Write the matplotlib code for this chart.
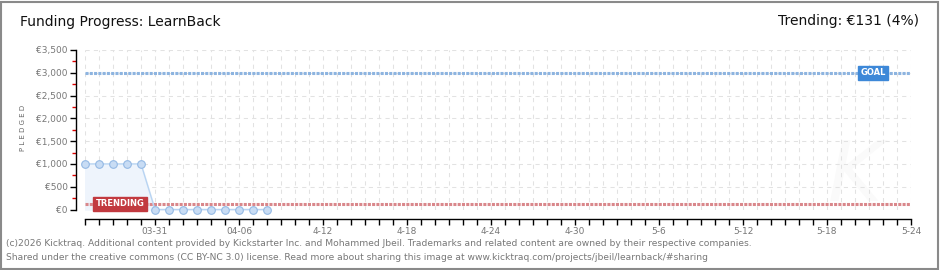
import matplotlib
matplotlib.use('Agg')
from matplotlib import pyplot as plt
import matplotlib.dates as mdates
from matplotlib.patches import Rectangle
import datetime as dt

# campaign data
dates = ['2026-03-26', '2026-03-27', '2026-03-28', '2026-03-29', '2026-03-30',
         '2026-03-31', '2026-04-01', '2026-04-02', '2026-04-03', '2026-04-04',
         '2026-04-05', '2026-04-06', '2026-04-07', '2026-04-08']
pledged = [1000, 1000, 1000, 1000, 1000, 0, 0, 0, 0, 0, 0, 0, 0, 0]
goal = 3000
trending = 131
start_date = '2026-03-26'
end_date = '2026-05-24'

label_dates = ['2026-03-31', '2026-04-06', '2026-04-12', '2026-04-18', '2026-04-24',
               '2026-04-30', '2026-05-06', '2026-05-12', '2026-05-18', '2026-05-24']
label_texts = ['03-31', '04-06', '4-12', '4-18', '4-24', '4-30', '5-6', '5-12', '5-18', '5-24']
y_ticks = [0, 500, 1000, 1500, 2000, 2500, 3000, 3500]
y_labels = ['€0', '€500', '€1,000', '€1,500', '€2,000', '€2,500', '€3,000', '€3,500']
y_minor = [250, 750, 1250, 1750, 2250, 2750, 3250]

title = 'Funding Progress: LearnBack'
trend_text = 'Trending: €131 (4%)'
footer1 = ('(c)2026 Kicktraq. Additional content provided by Kickstarter Inc. and Mohammed Jbeil. '
           'Trademarks and related content are owned by their respective companies.')
footer2 = ('Shared under the creative commons (CC BY-NC 3.0) license. Read more about sharing this '
           'image at www.kicktraq.com/projects/jbeil/learnback/#sharing')

W, H = 940, 270

def d(s):
    return dt.datetime.strptime(s, '%Y-%m-%d')

x = [d(s) for s in dates]

fig = plt.figure(figsize=(W / 100, H / 100), dpi=100)
fig.patch.set_facecolor('white')
fig.patches.append(Rectangle((0.5 / W, 1.5 / H), 937.5 / W, 266.5 / H, transform=fig.transFigure,
                             fill=False, edgecolor='#8a8a8a', linewidth=1.5))

ax = fig.add_axes([85 / W, (H - 209.5) / H, 826 / W, 159.5 / H])
ax.set_xlim(d(start_date), d(end_date))
ax.set_ylim(0, 3500)

# faint watermark
ax.text(d('2026-05-20'), 700, 'K', fontsize=60, color='#fafafa', ha='center', va='center',
        style='italic', zorder=0)

ax.set_axisbelow(True)
ax.xaxis.set_minor_locator(mdates.DayLocator())
ax.set_xticks([d(s) for s in label_dates])
ax.set_xticklabels(label_texts)
ax.set_yticks(y_ticks)
ax.set_yticklabels(y_labels)
ax.set_yticks(y_minor, minor=True)

ax.xaxis.grid(True, which='both', color='#e2e2e2', linestyle=(0, (4, 4)), linewidth=0.75)
ax.yaxis.grid(True, which='major', color='#e2e2e2', linestyle=(0, (4, 4)), linewidth=0.75)

for s in ['top', 'right']:
    ax.spines[s].set_visible(False)
ax.spines['left'].set_position(('outward', 6.5))
ax.spines['bottom'].set_position(('outward', 7))
ax.spines['left'].set_linewidth(1)
ax.spines['bottom'].set_linewidth(1)

ax.tick_params(axis='x', which='both', direction='out', length=4, width=1, color='black',
               labelsize=6.5, labelcolor='#777777', pad=1.5)
ax.tick_params(axis='y', which='major', direction='out', length=4, width=1, color='black',
               labelsize=6.5, labelcolor='#777777', pad=2)
ax.tick_params(axis='y', which='minor', direction='out', length=3, width=1, color='#dd0000')

# goal and trending lines
ax.plot([d(start_date), d(end_date)], [goal, goal], color='#8db4e0', linewidth=2.2,
        linestyle=(0, (1, 0.4)), zorder=3)
ax.plot([d(start_date), d(end_date)], [trending, trending], color='#d9878b', linewidth=2.2,
        linestyle=(0, (1, 0.4)), zorder=3)

# pledged series
ax.fill_between(x, pledged, 0, color='#eef4fc', zorder=2)
ax.plot(x, pledged, color='#b8d4f2', linewidth=1, marker='o', markersize=5.5,
        markerfacecolor='#c8dcf4', markeredgecolor='#94b9e4', markeredgewidth=0.8, zorder=4,
        clip_on=False)

ax.text(d('2026-05-21') + dt.timedelta(hours=7), goal, 'GOAL', fontsize=6, color='white',
        ha='center', va='center', fontweight='bold', zorder=5,
        bbox=dict(boxstyle='square,pad=0.3', facecolor='#3d88d8', edgecolor='#3d88d8'))
ax.text(d('2026-03-28') + dt.timedelta(hours=12), trending, 'TRENDING', fontsize=6, color='white',
        ha='center', va='center', fontweight='bold', zorder=5,
        bbox=dict(boxstyle='square,pad=0.3', facecolor='#c23a40', edgecolor='#c23a40'))

fig.text(23 / W, 1 - 128 / H, 'P L E D G E D', fontsize=5, color='#666666', rotation=90,
         ha='center', va='center')

fig.text(20 / W, 1 - 22 / H, title, fontsize=10, color='#111111', ha='left', va='center')
fig.text(919 / W, 1 - 21 / H, trend_text, fontsize=10, color='#111111', ha='right', va='center')
fig.text(6 / W, 1 - 243 / H, footer1, fontsize=6.6, color='#777777', ha='left', va='center')
fig.text(6 / W, 1 - 257 / H, footer2, fontsize=6.6, color='#777777', ha='left', va='center')

fig.savefig('out.png', dpi=100)
